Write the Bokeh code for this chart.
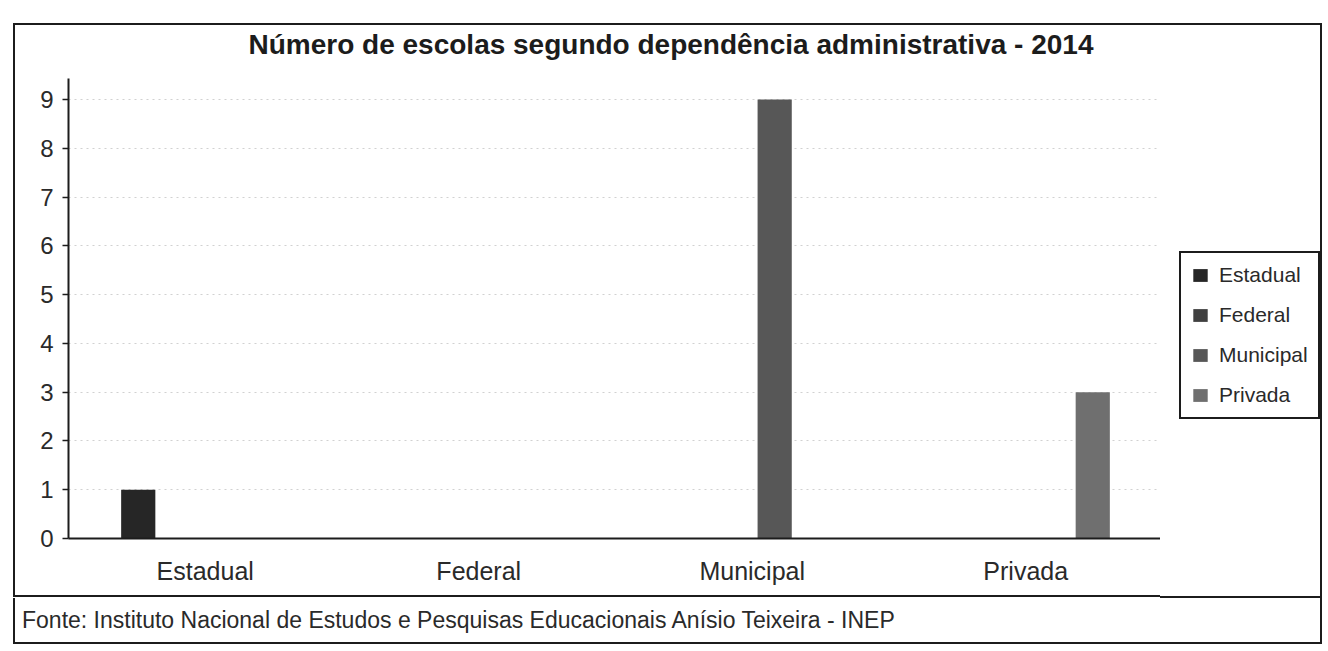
from bokeh.plotting import figure
from bokeh.models import FactorRange, Range1d, Legend, LegendItem, ColumnDataSource, FixedTicker, Div, Title
from bokeh.transform import dodge
from bokeh.layouts import column, row
from bokeh.embed import file_html
from bokeh.resources import INLINE

# ---- data ----
categories = ["Estadual", "Federal", "Municipal", "Privada"]
escolas = [1, 0, 9, 3]
series_colors = ["#262626", "#404040", "#575757", "#6f6f6f"]
y_ticks = [0, 1, 2, 3, 4, 5, 6, 7, 8, 9]
title_text = "Número de escolas segundo dependência administrativa - 2014"
source_text = "Fonte: Instituto Nacional de Estudos e Pesquisas Educacionais Anísio Teixeira - INEP"

FONT = "Liberation Sans"
INK = "#1c1c1c"
BORDER = "2px solid #1c1c1c"

data = {"cat": categories}
for i, s in enumerate(categories):
    data[s] = [escolas[i] if c == s else 0 for c in categories]
src = ColumnDataSource(data)

p = figure(
    x_range=FactorRange(*categories, range_padding=0),
    y_range=Range1d(0, 9.43),
    frame_width=1092, frame_height=456,
    output_backend="svg", toolbar_location=None,
    min_border_left=53, min_border_right=0,
    min_border_top=50, min_border_bottom=62,
    outline_line_color=None,
    styles={"border-top": BORDER, "border-left": BORDER, "border-bottom": BORDER},
    margin=0,
)

# spacer between frame and title, then the title itself
p.add_layout(Title(text=" ", text_font_size="15px", standoff=0), "above")
p.add_layout(Title(text=title_text, align="left", offset=180, standoff=0,
                   text_font=FONT, text_font_size="28px", text_font_style="bold",
                   text_color=INK), "above")

offsets = [-0.245, -0.082, 0.082, 0.245]
for i, s in enumerate(categories):
    p.vbar(x=dodge("cat", offsets[i], range=p.x_range), top=s, width=0.125,
           source=src, fill_color=series_colors[i], line_color=None)

# axes
p.yaxis.ticker = FixedTicker(ticks=y_ticks)
p.yaxis.axis_line_color = INK
p.yaxis.axis_line_width = 2
p.yaxis.major_tick_line_color = INK
p.yaxis.major_tick_line_width = 1.5
p.yaxis.major_tick_out = 6
p.yaxis.major_tick_in = 0
p.yaxis.minor_tick_line_color = None
p.yaxis.major_label_text_font = FONT
p.yaxis.major_label_text_font_size = "24px"
p.yaxis.major_label_text_color = "#2a2a2a"
p.yaxis.major_label_standoff = 9

p.xaxis.axis_line_color = INK
p.xaxis.axis_line_width = 2
p.xaxis.major_tick_line_color = None
p.xaxis.minor_tick_line_color = None
p.xaxis.major_label_text_font = FONT
p.xaxis.major_label_text_font_size = "25px"
p.xaxis.major_label_text_color = "#2a2a2a"
p.xaxis.major_label_standoff = 12

p.xgrid.grid_line_color = None
p.ygrid.grid_line_color = "#9a9a9a"
p.ygrid.grid_line_dash = "2 4"
p.ygrid.grid_line_alpha = 0.45
p.ygrid.grid_line_width = 1

# legend panel (own figure so the chart frame keeps its width)
lf = figure(
    frame_width=160, frame_height=456,
    x_range=Range1d(0, 1), y_range=Range1d(0, 1),
    output_backend="svg", toolbar_location=None,
    x_axis_location=None, y_axis_location=None,
    min_border_left=0, min_border_right=0,
    min_border_top=53, min_border_bottom=62,
    outline_line_color=None,
    styles={"border-top": BORDER, "border-right": BORDER, "border-bottom": BORDER},
    margin=0,
)
lf.grid.visible = False
items = []
for i, s in enumerate(categories):
    # zero-size helper bars on the same data, only used for the legend swatches
    r = lf.vbar(x=0, top=0, width=0, source=src, fill_color=series_colors[i], line_color=None)
    items.append(LegendItem(label=s, renderers=[r]))

legend = Legend(
    items=items,
    location=(19, 119), margin=0, padding=10, spacing=16,
    glyph_width=18, glyph_height=16, label_standoff=10,
    label_text_font=FONT, label_text_font_size="21px", label_text_color="#2a2a2a",
    border_line_color=INK, border_line_width=2, border_line_alpha=1.0,
    background_fill_color="white",
)
lf.add_layout(legend, "center")

# source panel
s = Div(
    text=source_text, width=1309, height=46, margin=0,
    styles={"border-left": BORDER, "border-right": BORDER, "border-bottom": BORDER,
            "box-sizing": "border-box", "padding-left": "7px", "line-height": "44px",
            "font-family": FONT, "font-size": "23px", "color": "#2a2a2a",
            "white-space": "nowrap", "overflow": "hidden"},
)

layout = column(row(p, lf, spacing=0, margin=0), s, margin=(23, 0, 0, 13), spacing=0)

open("out.html", "w").write(file_html(layout, INLINE))
